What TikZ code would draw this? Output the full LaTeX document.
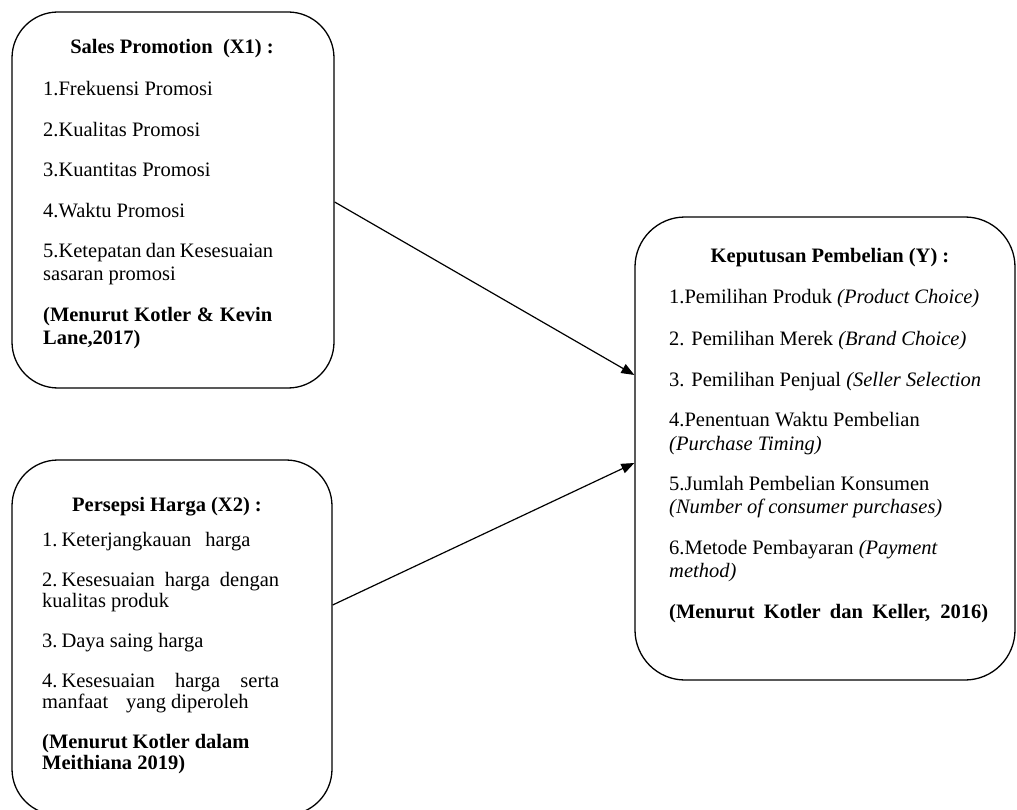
\documentclass[tikz,border=0pt]{standalone}
\usepackage{fontspec}
\setmainfont{Liberation Serif}
\usetikzlibrary{arrows.meta}
\begin{document}
\begin{tikzpicture}[x=1pt,y=-1pt,
  box/.style={draw, line width=1.3pt, inner sep=0pt},
  ttl/.style={font=\fontsize{20.5}{23}\selectfont\bfseries, anchor=base, inner sep=0pt},
  body/.style={font=\fontsize{20.5}{23}\selectfont, anchor=base west, inner sep=0pt},
  bodyb/.style={font=\fontsize{20.5}{21}\selectfont, anchor=base west, inner sep=0pt},
  arr/.style={line width=1.2pt, -{Triangle[length=13pt,width=10pt]}}]
\useasboundingbox (0,0) rectangle (1017,810);
\fill[white] (0,0) rectangle (1017,810);

% boxes
\node[box, rounded corners=46pt, minimum width=322pt, minimum height=376pt] (b1) at (173,200) {};
\node[box, rounded corners=46pt, minimum width=320pt, minimum height=355pt] (b2) at (172,637.5) {};
\node[box, rounded corners=50pt, minimum width=380pt, minimum height=463pt] (b3) at (825,448.5) {};

% box 1 text
\node[ttl] (t1) at (172,54) {Sales Promotion\ \ (X1) :};
\node[body] (l1) at (43,96) {\begin{tabular}[t]{@{}l@{}}
1.Frekuensi Promosi\\[17.5pt]
2.Kualitas Promosi\\[17.5pt]
3.Kuantitas Promosi\\[17.5pt]
4.Waktu Promosi\\[17.5pt]
\makebox[230pt][s]{5.Ketepatan dan Kesesuaian}\\
sasaran promosi\\[17.5pt]
\textbf{\makebox[229pt][s]{(Menurut Kotler \& Kevin}}\\
\textbf{Lane,2017)}
\end{tabular}};

% box 2 text
\node[ttl] (t2) at (167,511) {Persepsi Harga (X2) :};
\node[bodyb] (l2) at (42,546) {\begin{tabular}[t]{@{}l@{}}
1.\hspace{4pt}Keterjangkauan\hspace{14pt}harga\\[19pt]
\makebox[237pt][s]{2.\hspace{4pt}Kesesuaian harga dengan}\\
kualitas produk\\[19pt]
3.\hspace{4pt}Daya saing harga\\[19pt]
\makebox[237pt][s]{4.\hspace{4pt}Kesesuaian harga serta}\\
manfaat\hspace{18pt}yang diperoleh\\[19pt]
\textbf{(Menurut Kotler dalam}\\
\textbf{Meithiana 2019)}
\end{tabular}};

% box 3 text
\node[ttl] (t3) at (830,263) {Keputusan Pembelian (Y) :};
\node[body] (l3) at (669,304) {\begin{tabular}[t]{@{}l@{}}
1.Pemilihan Produk \textit{(Product Choice)}\\[18pt]
2. Pemilihan Merek \textit{(Brand Choice)}\\[18pt]
3. Pemilihan Penjual \textit{(Seller Selection}\\[18pt]
4.Penentuan Waktu Pembelian\\
\textit{(Purchase Timing)}\\[18pt]
5.Jumlah Pembelian Konsumen\\
\textit{(Number of consumer purchases)}\\[18pt]
6.Metode Pembayaran \textit{(Payment}\\
\textit{method)}\\[18pt]
\textbf{\makebox[319pt][s]{(Menurut Kotler dan Keller, 2016)}}
\end{tabular}};

% connectors
\coordinate (s1) at ([yshift=-2pt]b1.east);
\coordinate (s2) at ([yshift=32.5pt]b2.east);
\coordinate (e1) at ([yshift=73.5pt]b3.west);
\coordinate (e2) at ([yshift=-14.5pt]b3.west);
\draw[arr] (s1) -- (e1);
\draw[arr] (s2) -- (e2);
\end{tikzpicture}
\end{document}
